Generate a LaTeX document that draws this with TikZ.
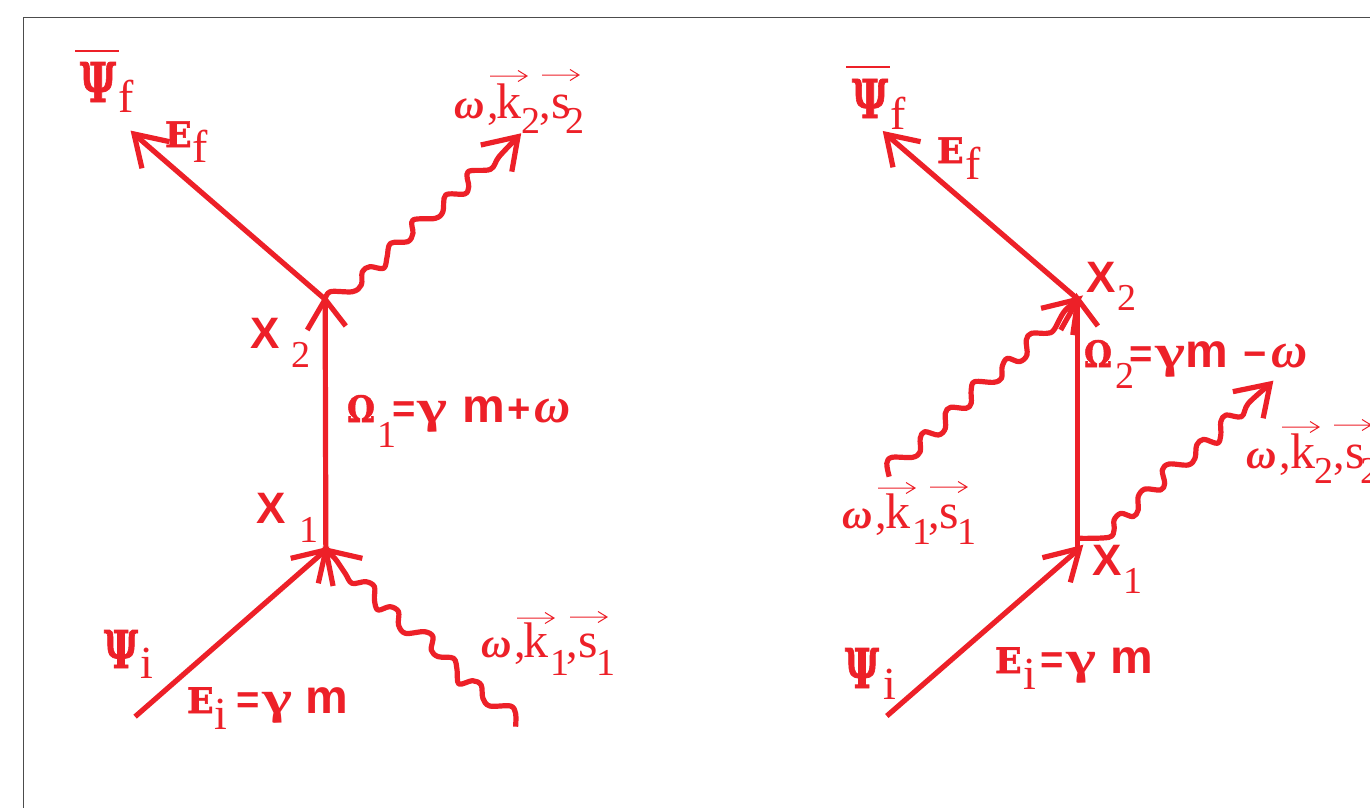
\documentclass[tikz,border=0pt]{standalone}
\usepackage{fontspec}
\usepackage{graphicx}
\setmainfont{Liberation Serif}
\newfontfamily\lsans{Liberation Sans}
\newfontfamily\dvserif[BoldFeatures={FakeBold=1.5}]{DejaVu Serif}
\definecolor{rd}{HTML}{ED2028}
\newcommand\fs[1]{\fontsize{#1}{#1}\selectfont}
\newcommand\Bx[2]{\makebox[#1pt][l]{#2}}
\newcommand\Sb[3]{\raisebox{-#1pt}{\fs{#2}\rmfamily\mdseries\upshape #3}}
\newcommand\PsiB[2]{\resizebox{#1pt}{#2pt}{\fs{40}\dvserif\bfseries Ψ}}
\newcommand\EB{{\fs{35}\dvserif\bfseries E}}
\newcommand\OmB{\resizebox{28pt}{27pt}{\fs{36}\dvserif\bfseries Ω}}
\newcommand\Eq{{\fs{40}\lsans\bfseries =}}
\newcommand\GamB{\resizebox*{30pt}{31pt}{\fs{50}\bfseries γ}}
\newcommand\Mm{{\fs{48}\lsans\bfseries m}}
\newcommand\Xx{{\fs{44}\lsans\bfseries X}}
\newcommand\Wg{{\fs{42}\bfseries\itshape ω}}
\newcommand\WgB{{\fs{50}\bfseries\itshape ω}}
\newcommand\Cm{{\fs{46},}}
\newcommand\Kk{{\fs{50}k}}
\newcommand\Ss{{\fs{50}s}}
\newcommand\Vv[2]{\draw[vecline] (#1,#2) -- ++(37,0) ++(-9,-5.5) -- ++(9,5.5) -- ++(-9,5.5);}
\tikzset{
  main/.style={draw=rd,line width=5.2pt,line cap=butt,line join=miter,miter limit=10},
  wave/.style={draw=rd,line width=5.2pt,line cap=butt,line join=round},
  vecline/.style={draw=rd,line width=1pt},
  bar/.style={draw=rd,line width=2.4pt},
  lab/.style={anchor=base west,inner sep=0pt,outer sep=0pt,text=rd},
  zoomed/.style={x=0.34435pt,y=-0.33333pt}
}
\begin{document}
\begin{tikzpicture}[x=1pt,y=-1pt]
\path[use as bounding box,clip] (0,0) rectangle (1370,808);
\fill[white] (0,0) rectangle (1370,808);
\draw[black!70,line width=0.8pt] (1370,17) -- (23,17) -- (23,808);

% ---------- left diagram
\begin{scope}[zoomed,shift={(174.24,90)}]
\coordinate (Lv2) at (770,808);
\coordinate (Lf) at (215,312);
\coordinate (Lg2) at (1330,320);
\end{scope}
\begin{scope}[zoomed,shift={(232.32,1110)}]
\coordinate (Lv1) at (714,540);
\coordinate (Li) at (160,1040);
\coordinate (Lg1) at (1265,1070);
\end{scope}
\draw[main] (Lv2) -- (Lf);
\draw[main] (Lv1) -- (Lv2);
\draw[main] (Li) -- (Lv1);
\begin{scope}[zoomed,shift={(174.24,90)}]
\draw[main] (318,335) -- (Lf) -- (238,415);
\draw[main] (1222,345) -- (Lg2) -- (1312,425);
\draw[main] (718,900) -- (Lv2) -- (830,888);
\draw[wave] plot[smooth,tension=0.55] coordinates {(Lv2) (785,785) (850,785) (875,765) (878,725) (900,710) (940,715) (950,680) (960,640) (1010,635) (1025,610) (1025,570) (1090,565) (1112,545) (1120,495) (1175,492) (1187,470) (1185,425) (1250,418) (1275,380) (Lg2)};
\end{scope}
\begin{scope}[zoomed,shift={(232.32,1110)}]
\draw[main] (612,565) -- (Lv1) -- (692,640);
\draw[main] (820,565) -- (Lv1) -- (735,648);
\draw[wave] plot[smooth,tension=0.55] coordinates {(Lg1) (1265,1030) (1250,1008) (1190,1008) (1170,985) (1165,945) (1140,932) (1100,942) (1095,900) (1085,865) (1040,860) (1020,840) (1025,800) (1000,785) (945,790) (925,765) (925,725) (900,710) (865,720) (855,690) (855,650) (830,635) (790,640) (770,610) (740,565) (Lv1)};
\end{scope}

% ---------- right diagram
\begin{scope}[zoomed,shift={(2410.3,150)}]
\coordinate (Rv2) at (720,748);
\coordinate (Rf) at (163,253);
\coordinate (Rfree) at (172,1280);
\coordinate (Rv1) at (725,1495);
\coordinate (Ri) at (165,1998);
\coordinate (Rg2) at (1278,1002);
\coordinate (Rt2) at (718,748);
\coordinate (Rb1) at (718,1525);
\draw[main] (Rv2) -- (Rf);
\draw[main] (Rb1) -- (Rt2);
\draw[main] (Ri) -- (Rv1);
\draw[main] (263,275) -- (Rf) -- (183,352);
\draw[main] (613,775) -- (Rv2) -- (670,840);
\draw[main] (705,855) -- (Rv2) -- (778,828);
\draw[main] (617,1523) -- (Rv1) -- (698,1597);
\draw[main] (1170,1025) -- (Rg2) -- (1258,1105);
\draw[wave] plot[smooth,tension=0.55] coordinates {(Rfree) (165,1240) (180,1222) (240,1222) (262,1205) (262,1165) (275,1145) (315,1155) (335,1135) (335,1090) (350,1072) (395,1075) (410,1060) (410,1020) (420,995) (475,997) (498,985) (500,950) (515,925) (550,935) (572,915) (570,870) (585,850) (630,850) (650,840) (680,785) (Rv2)};
\draw[wave] plot[smooth,tension=0.55] coordinates {(725,1465) (810,1462) (825,1440) (825,1410) (845,1390) (880,1400) (895,1380) (895,1340) (915,1317) (960,1320) (972,1300) (965,1260) (985,1242) (1040,1245) (1060,1225) (1065,1185) (1085,1168) (1125,1180) (1135,1155) (1135,1115) (1150,1095) (1195,1100) (1215,1060) (Rg2)};
\end{scope}

% ---------- left labels
\node[lab] (lpsif) at (80,102) {\Bx{38}{\PsiB{36}{40}}\Sb{10}{46}{f}};
\draw[bar] (75,51) -- (119,51);
\node[lab] (lef) at (165,147) {\Bx{27}{\EB}\Sb{15}{46}{f}};
\node[lab] (lw2) at (454,118) {\Bx{33}{\Wg}\Bx{9}{\Cm}\Bx{25}{\Kk}\Bx{18}{\Sb{15}{38}{2}}\Bx{12}{\Cm}\Bx{14}{\Ss}\Sb{15}{38}{2}};
\Vv{490}{76}\Vv{542}{75}
\node[lab] (lx2) at (250,348) {\Bx{41}{\Xx}\Sb{19}{38}{2}};
\node[lab] (lom) at (347,422) {\Bx{30}{\OmB}\Bx{15}{\Sb{25}{38}{1}}\Bx{25}{\Eq}\Bx{45}{\GamB}\Bx{45}{\Mm}\Bx{27}{{\fs{40}\lsans\bfseries +}}\WgB};
\node[lab] (lx1) at (256,523) {\Bx{43}{\Xx}\Sb{19}{38}{1}};
\node[lab] (lpsii) at (104,668) {\Bx{36}{\PsiB{34}{38}}\Sb{10}{46}{i}};
\node[lab] (lei) at (187,713) {\Bx{27}{\EB}\Bx{22}{\Sb{16}{46}{i}}\Bx{26}{\Eq}\Bx{43}{\GamB}\Mm};
\node[lab] (lw1) at (481,657) {\Bx{33}{\Wg}\Bx{9}{\Cm}\Bx{27}{\Kk}\Bx{16}{\Sb{18}{38}{1}}\Bx{12}{\Cm}\Bx{18}{\Ss}\Sb{18}{38}{1}};
\Vv{517}{618}\Vv{570}{617}

% ---------- right labels
\node[lab] (rpsif) at (852,118) {\Bx{38}{\PsiB{36}{39}}\Sb{11}{46}{f}};
\draw[bar] (846,67) -- (890,67);
\node[lab] (ref) at (937,163) {\Bx{28}{\EB}\Sb{16}{46}{f}};
\node[lab] (rx2) at (1086,292) {\Bx{31}{\Xx}\Sb{18}{38}{2}};
\node[lab] (rom) at (1084,367) {\Bx{31}{\OmB}\Bx{14}{\Sb{21}{38}{2}}\Bx{26}{\Eq}\Bx{30}{\GamB}\Bx{58}{\Mm}\Bx{28}{{\fs{40}\lsans\bfseries −}}\WgB};
\node[lab] (rw2) at (1246,468) {\Bx{33}{\Wg}\Bx{11}{\Cm}\Bx{24}{\Kk}\Bx{19}{\Sb{15}{38}{2}}\Bx{12}{\Cm}\Bx{15}{\Ss}\Sb{15}{38}{2}};
\Vv{1282}{427}\Vv{1334}{425}
\node[lab] (rw1) at (842,528) {\Bx{33}{\Wg}\Bx{10}{\Cm}\Bx{27}{\Kk}\Bx{16}{\Sb{16}{38}{1}}\Bx{11}{\Cm}\Bx{18}{\Ss}\Sb{16}{38}{1}};
\Vv{878}{488}\Vv{930}{487}
\node[lab] (rx1) at (1092,575) {\Bx{31}{\Xx}\Sb{18}{38}{1}};
\node[lab] (rpsii) at (845,688) {\Bx{38}{\PsiB{34}{40}}\Sb{11}{46}{i}};
\node[lab] (rei) at (995,673) {\Bx{28}{\EB}\Bx{17}{\Sb{16}{46}{i}}\Bx{26}{\Eq}\Bx{44}{\GamB}\Mm};
\end{tikzpicture}
\end{document}
